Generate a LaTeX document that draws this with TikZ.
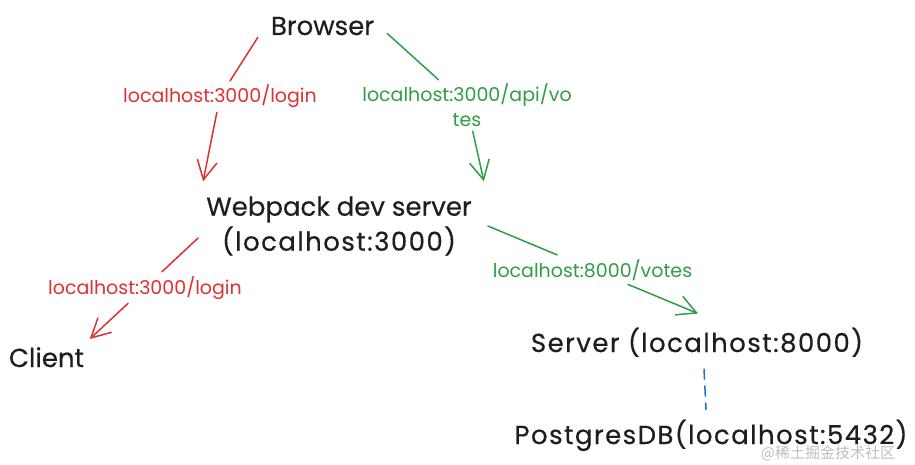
\documentclass[tikz,border=0pt]{standalone}
\usepackage{fontspec}
\setmainfont{Poppins}[FakeBold=0.4]
\newfontfamily\mainwide{Poppins}[LetterSpace=5.5,FakeBold=0.4]
\newfontfamily\lblfont{Poppins}
\newfontfamily\cjk{Noto Sans CJK SC}
\usetikzlibrary{arrows.meta}
\definecolor{ink}{HTML}{1E1E1E}
\definecolor{exred}{HTML}{E03131}
\definecolor{exgreen}{HTML}{2F9E44}
\definecolor{exblue}{HTML}{1971C2}
\tikzset{
  mainlbl/.style={inner sep=0pt, text=ink, font=\fontsize{26}{35}\selectfont, align=center},
  edgelbl/.style={inner sep=4pt, font=\lblfont\fontsize{19}{25}\selectfont, align=center},
  conn/.style={line width=1.5pt, line cap=round, line join=round},
  tipped/.style={conn, -{Straight Barb[length=19pt,width=20pt,line width=1.5pt]}},
  redc/.style={color=exred},
  greenc/.style={color=exgreen},
}
\begin{document}
\begin{tikzpicture}[x=1pt,y=-1pt]
\useasboundingbox[fill=white] (0,0) rectangle (915,465);
% nodes
\node[mainlbl, anchor=base] (browser) at (322.5,35) {Browser};
\node[mainlbl] (webpack) at (339,226) {Webpack dev server\\{\mainwide (localhost:3000)}};
\node[mainlbl, anchor=base] (client) at (46.5,367) {Client};
\node[mainlbl, anchor=base] (server) at (697,352) {\mainwide Server (localhost:8000)};
\node[mainlbl, anchor=base] (postgres) at (711,444) {\mainwide PostgresDB(localhost:5432)};
% edge labels
\node[edgelbl, redc, anchor=base] (l1) at (220,103) {localhost:3000/login};
\node[edgelbl, greenc] (l2) at (467,105.5) {localhost:3000/api/vo\\tes};
\node[edgelbl, redc, anchor=base] (l3) at (145,294) {localhost:3000/login};
\node[edgelbl, greenc, anchor=base] (l4) at (592.5,277) {localhost:8000/votes};
% connectors
\draw[conn, redc] ([shift={(-13,2)}]browser.south west) -- (l1);
\draw[tipped, redc] (l1) -- ([shift={(-3,-15)}]webpack.north west);
\draw[conn, greenc] ([shift={(13,-2)}]browser.south east) -- (l2);
\draw[tipped, greenc] (l2) -- ([shift={(12,-15)}]webpack.north east);
\draw[conn, redc] ([shift={(-8,12)}]webpack.west) -- (l3);
\draw[tipped, redc] (l3) -- ([shift={(5.5,-8)}]client.north east);
\draw[conn, greenc] ([shift={(16,0)}]webpack.east) -- (l4);
\draw[tipped, greenc] (l4) -- ([shift={(1,-14)}]server.north);
\draw[conn, exblue, dash pattern=on 10pt off 7pt] ([shift={(7,12)}]server.south) -- ([shift={(-5,-10)}]postgres.north);
% watermark
\node[inner sep=0pt, text=black!25, font=\cjk\fontsize{15}{18}\selectfont] (wm) at (828,453) {@稀土掘金技术社区};
\end{tikzpicture}
\end{document}
